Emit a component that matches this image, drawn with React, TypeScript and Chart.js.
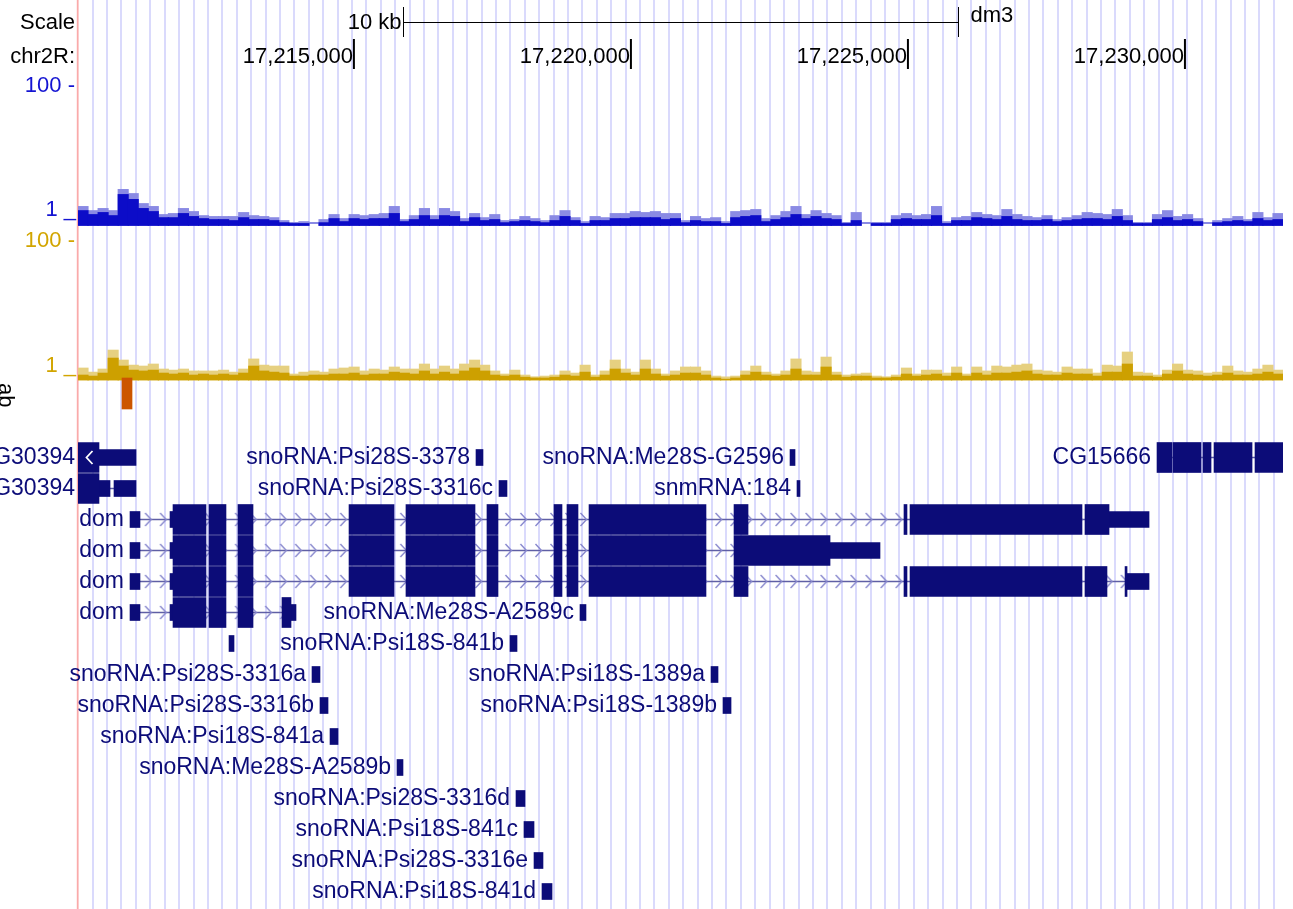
import React, { useEffect, useRef } from "react";
import { Chart, registerables } from "chart.js";

Chart.register(...registerables);

// ---------------- window / ruler ----------------
const CHROM_LABEL = "chr2R:";
const ASSEMBLY = "dm3";
const VIEW_START = 17210020;
const VIEW_END = 17231770;
const RULER_TICKS = [17215000, 17220000, 17225000, 17230000];
const SCALE_BAR_BP = 10000;
const SCALE_BAR_LABEL = "10 kb";
const GUIDE_START = 17210285;
const GUIDE_STEP = 260;

// ---------------- signal tracks (fixed-step bins) ----------------
const SIGNAL_STEP = 181.25;
const SIGNAL_TOP_LABEL = "100 -";
const SIGNAL_BOTTOM_LABEL = "1 _";

const BLUE_MAX = [
  1.88, 1.64, 1.76, 1.64, 3.3, 2.88, 2.07, 1.88, 1.44, 1.49,
  1.76, 1.59, 1.39, 1.35, 1.35, 1.35, 1.54, 1.39, 1.35, 1.3,
  1.18, 1.1, 1.14, null, 1.22, 1.44, 1.26, 1.44, 1.39, 1.44,
  1.49, 1.88, 1.22, 1.39, 1.76, 1.39, 1.76, 1.59, 1.26, 1.49,
  1.3, 1.44, 1.18, 1.22, 1.35, 1.26, 1.18, 1.39, 1.64, 1.3,
  1.14, 1.35, 1.3, 1.49, 1.49, 1.59, 1.54, 1.59, 1.49, 1.49,
  1.18, 1.35, 1.26, 1.3, 1.14, 1.59, 1.64, 1.7, 1.26, 1.39,
  1.59, 1.88, 1.44, 1.64, 1.49, 1.39, 1.1, 1.54, null, 1.1,
  1.1, 1.39, 1.49, 1.39, 1.44, 1.88, 1.14, 1.3, 1.35, 1.54,
  1.44, 1.39, 1.7, 1.44, 1.35, 1.3, 1.39, 1.22, 1.3, 1.39,
  1.54, 1.49, 1.44, 1.7, 1.39, 1.1, 1.1, 1.44, 1.64, 1.35,
  1.44, 1.26, null, 1.18, 1.26, 1.35, 1.22, 1.54, 1.3, 1.49,
];
const BLUE_MEAN = [
  1.64, 1.44, 1.54, 1.39, 2.79, 2.37, 1.76, 1.59, 1.3, 1.3,
  1.49, 1.35, 1.26, 1.22, 1.22, 1.18, 1.3, 1.22, 1.22, 1.18,
  1.1, 1.07, 1.07, null, 1.1, 1.26, 1.14, 1.26, 1.22, 1.26,
  1.26, 1.49, 1.14, 1.22, 1.39, 1.22, 1.39, 1.35, 1.14, 1.3,
  1.18, 1.22, 1.1, 1.14, 1.18, 1.14, 1.1, 1.18, 1.35, 1.18,
  1.07, 1.18, 1.18, 1.26, 1.26, 1.3, 1.3, 1.3, 1.22, 1.26,
  1.1, 1.18, 1.14, 1.14, 1.07, 1.3, 1.35, 1.39, 1.14, 1.22,
  1.3, 1.44, 1.26, 1.35, 1.26, 1.22, 1.07, 1.18, null, 1.07,
  1.07, 1.22, 1.26, 1.22, 1.22, 1.39, 1.07, 1.18, 1.18, 1.3,
  1.26, 1.22, 1.35, 1.22, 1.18, 1.18, 1.22, 1.14, 1.18, 1.22,
  1.26, 1.26, 1.22, 1.35, 1.18, 1.07, 1.07, 1.22, 1.3, 1.18,
  1.22, 1.14, null, 1.1, 1.14, 1.18, 1.14, 1.26, 1.18, 1.22,
];
const GOLD_MAX = [
  1.49, 1.3, 1.44, 2.7, 1.94, 1.64, 1.59, 1.7, 1.44, 1.39,
  1.44, 1.35, 1.35, 1.35, 1.39, 1.3, 1.44, 2.01, 1.64, 1.59,
  1.59, 1.22, 1.3, 1.35, 1.3, 1.44, 1.49, 1.54, 1.35, 1.44,
  1.39, 1.54, 1.44, 1.44, 1.7, 1.44, 1.59, 1.44, 1.7, 1.94,
  1.64, 1.35, 1.22, 1.39, 1.18, 1.1, 1.14, 1.18, 1.35, 1.26,
  1.64, 1.18, 1.35, 1.94, 1.44, 1.3, 1.94, 1.44, 1.22, 1.35,
  1.54, 1.54, 1.35, 1.14, 1.07, 1.14, 1.35, 1.59, 1.3, 1.22,
  1.35, 2.01, 1.35, 1.3, 2.14, 1.3, 1.18, 1.22, 1.26, 1.14,
  1.1, 1.18, 1.49, 1.22, 1.39, 1.39, 1.26, 1.54, 1.22, 1.54,
  1.35, 1.59, 1.54, 1.64, 1.7, 1.39, 1.35, 1.3, 1.54, 1.44,
  1.44, 1.26, 1.64, 1.59, 2.53, 1.3, 1.26, 1.18, 1.39, 1.7,
  1.39, 1.35, 1.26, 1.3, 1.59, 1.35, 1.3, 1.44, 1.64, 1.39,
];
const GOLD_MEAN = [
  1.18, 1.14, 1.26, 2.07, 1.59, 1.39, 1.35, 1.39, 1.26, 1.22,
  1.26, 1.18, 1.22, 1.18, 1.22, 1.18, 1.26, 1.59, 1.35, 1.3,
  1.26, 1.14, 1.14, 1.18, 1.18, 1.22, 1.22, 1.26, 1.18, 1.22,
  1.22, 1.3, 1.26, 1.22, 1.35, 1.22, 1.3, 1.22, 1.35, 1.49,
  1.35, 1.18, 1.14, 1.18, 1.1, 1.07, 1.07, 1.1, 1.18, 1.14,
  1.3, 1.1, 1.18, 1.44, 1.26, 1.18, 1.44, 1.22, 1.14, 1.18,
  1.26, 1.26, 1.18, 1.07, 1.03, 1.07, 1.18, 1.3, 1.18, 1.14,
  1.18, 1.44, 1.18, 1.18, 1.54, 1.18, 1.1, 1.14, 1.14, 1.07,
  1.07, 1.1, 1.22, 1.14, 1.18, 1.22, 1.14, 1.26, 1.14, 1.26,
  1.18, 1.26, 1.26, 1.3, 1.35, 1.22, 1.18, 1.18, 1.26, 1.22,
  1.22, 1.14, 1.3, 1.3, 1.7, 1.14, 1.14, 1.1, 1.22, 1.35,
  1.22, 1.18, 1.14, 1.18, 1.26, 1.18, 1.18, 1.22, 1.3, 1.22,
];

// ---------------- "ab" feature track ----------------
const AB_LABEL = "ab";
const AB_FEATURES = [[17210814, 17210995]];

// ---------------- gene models (genomic blocks) ----------------
type Block = number[];
const CG30394_CDS: Block[] = [[17209600, 17210399]];
const CG30394_RA_UTR: Block[] = [[17210399, 17211067]];
const CG30394_RB_UTR: Block[] = [[17210399, 17210598], [17210670, 17211067]];
const CG15666_CDS: Block[] = [
  [17229496, 17229767], [17229785, 17230290], [17230326, 17230471],
  [17230525, 17231211], [17231265, 17231900],
];
const DOM_5UTR: Block[] = [[17210959, 17211139], [17211681, 17211735]];
const DOM_CORE_CDS: Block[] = [[17211735, 17212330], [17212385, 17212691], [17212908, 17213179]];
const DOM_MID_CDS: Block[] = [
  [17214912, 17215724], [17215940, 17217186], [17217402, 17217601],
  [17218612, 17218756], [17218846, 17219045], [17219244, 17221355],
];
const DOM_RA_TAIL_CDS: Block[] = [[17221861, 17222114], [17224929, 17224983], [17225038, 17228142], [17228196, 17228630]];
const DOM_RA_3UTR: Block[] = [[17228630, 17229352]];
const DOM_RB_TAIL_CDS: Block[] = [[17221861, 17223594]];
const DOM_RB_3UTR: Block[] = [[17223594, 17224496]];
const DOM_RC_TAIL_CDS: Block[] = [[17221861, 17222114], [17224929, 17224983], [17225038, 17228142], [17228196, 17228593], [17228919, 17228955]];
const DOM_RC_3UTR: Block[] = [[17228955, 17229352]];
const DOM_RD_TAIL_CDS: Block[] = [[17213702, 17213865]];
const DOM_RD_3UTR: Block[] = [[17213865, 17213955]];

const TRANSCRIPT_LABELS = ["CG30394", "CG30394", "CG15666", "dom", "dom", "dom", "dom"];
const TRANSCRIPT_ROWS = [0, 1, 0, 2, 3, 4, 5];
const TRANSCRIPT_STRANDS = ["-", "-", "+", "+", "+", "+", "+"];
const TRANSCRIPT_CDS: Block[][] = [
  CG30394_CDS, CG30394_CDS, CG15666_CDS,
  [...DOM_CORE_CDS, ...DOM_MID_CDS, ...DOM_RA_TAIL_CDS],
  [...DOM_CORE_CDS, ...DOM_MID_CDS, ...DOM_RB_TAIL_CDS],
  [...DOM_CORE_CDS, ...DOM_MID_CDS, ...DOM_RC_TAIL_CDS],
  [...DOM_CORE_CDS, ...DOM_RD_TAIL_CDS],
];
const TRANSCRIPT_UTR: Block[][] = [
  CG30394_RA_UTR, CG30394_RB_UTR, [],
  [...DOM_5UTR, ...DOM_RA_3UTR],
  [...DOM_5UTR, ...DOM_RB_3UTR],
  [...DOM_5UTR, ...DOM_RC_3UTR],
  [...DOM_5UTR, ...DOM_RD_3UTR],
];
const TRANSCRIPT_CHEVRONS = [false, false, false, true, true, true, true];

const SNO_NAMES = [
  "snoRNA:Psi28S-3378", "snoRNA:Me28S-G2596", "snoRNA:Psi28S-3316c", "snmRNA:184",
  "snoRNA:Me28S-A2589c", "", "snoRNA:Psi18S-841b", "snoRNA:Psi28S-3316a",
  "snoRNA:Psi18S-1389a", "snoRNA:Psi28S-3316b", "snoRNA:Psi18S-1389b", "snoRNA:Psi18S-841a",
  "snoRNA:Me28S-A2589b", "snoRNA:Psi28S-3316d", "snoRNA:Psi18S-841c", "snoRNA:Psi28S-3316e",
  "snoRNA:Psi18S-841d",
];
const SNO_ROWS = [0, 0, 1, 1, 5, 6, 6, 7, 7, 8, 8, 9, 10, 11, 12, 13, 14];
const SNO_STARTS = [
  17217204, 17222872, 17217619, 17222998, 17219081, 17212746, 17217818, 17214244,
  17221446, 17214388, 17221662, 17214569, 17215778, 17217926, 17218070, 17218251, 17218395,
];
const SNO_ENDS = [
  17217330, 17222962, 17217763, 17223052, 17219189, 17212836, 17217944, 17214388,
  17221572, 17214533, 17221807, 17214713, 17215886, 17218088, 17218251, 17218413, 17218576,
];

// ---------------- layout & style (not data) ----------------
const W = 1293;
const H = 909;
const PLOT_LEFT = 78;
const PLOT_RIGHT = 1283;
const ROW0_Y = 457.5;
const ROW_PITCH = 31;
const AB_TRACK_Y = 393.5;
const BLUE_ONE_Y = 225.5;
const BLUE_HUNDRED_Y = 86;
const GOLD_ONE_Y = 380;
const GOLD_HUNDRED_Y = 241;
const CHEVRON_PHASE = 17210201;
const CHEVRON_STEP = 271;

const NAVY = "rgb(12,12,120)";
const INTRON = "rgb(95,95,165)";
const CHEVRON = "rgb(135,135,205)";
const GUIDE = "rgb(218,218,252)";
const RED = "rgb(250,170,170)";
const BLUE_DARK = "rgb(12,12,200)";
const BLUE_LIGHT = "rgb(138,138,228)";
const BLUE_TEXT = "rgb(20,20,210)";
const GOLD_DARK = "rgb(205,160,0)";
const GOLD_LIGHT = "rgb(230,208,128)";
const GOLD_TEXT = "rgb(210,165,0)";
const ORANGE = "rgb(204,85,0)";
const FONT = '"Liberation Sans", Arial, Helvetica, sans-serif';

function logBounds(oneY: number, hundredY: number) {
  const ppd = (oneY - hundredY) / 2;
  const lmax = oneY / ppd;
  const lmin = lmax - H / ppd;
  return { min: Math.pow(10, lmin), max: Math.pow(10, lmax) };
}

function makeChevron(color: string, pointRight: boolean, lw: number) {
  const c = document.createElement("canvas");
  c.width = 9;
  c.height = 15;
  const g = c.getContext("2d")!;
  g.strokeStyle = color;
  g.lineWidth = lw;
  g.beginPath();
  if (pointRight) {
    g.moveTo(1.5, 1);
    g.lineTo(7.5, 7.5);
    g.lineTo(1.5, 14);
  } else {
    g.moveTo(7.5, 1);
    g.lineTo(1.5, 7.5);
    g.lineTo(7.5, 14);
  }
  g.stroke();
  return c;
}

export default function App() {
  const ref = useRef<HTMLCanvasElement>(null);

  useEffect(() => {
    const canvas = ref.current;
    if (!canvas) return;

    const bpPerPx = (VIEW_END - VIEW_START) / (PLOT_RIGHT - PLOT_LEFT);
    const binPx = SIGNAL_STEP / bpPerPx + 0.4;
    const binX = (i: number) => VIEW_START + (i + 0.5) * SIGNAL_STEP;
    const sigBars = (arr: (number | null)[]) =>
      arr.map((v, i) => (v == null ? null : { x: binX(i), y: [1, v] })).filter(Boolean);

    const spans = TRANSCRIPT_CDS.map((cds, i) => {
      const all = [...cds, ...TRANSCRIPT_UTR[i]];
      return [Math.min(...all.map((b) => b[0])), Math.max(...all.map((b) => b[1]))];
    });

    const cdsData: any[] = [];
    const utrData: any[] = [];
    const intronData: any[] = [];
    const chevronData: any[] = [];
    TRANSCRIPT_CDS.forEach((cds, i) => {
      const row = TRANSCRIPT_ROWS[i];
      cds.forEach((b) => cdsData.push({ x: [b[0], b[1]], y: row }));
      TRANSCRIPT_UTR[i].forEach((b) => utrData.push({ x: [b[0], b[1]], y: row }));
      const [s, e] = spans[i];
      intronData.push({ x: s, y: row }, { x: e, y: row }, { x: e, y: null });
      if (TRANSCRIPT_CHEVRONS[i]) {
        for (let p = CHEVRON_PHASE; p < e; p += CHEVRON_STEP) {
          if (p > s + CHEVRON_STEP / 2 && p < e - CHEVRON_STEP / 3) chevronData.push({ x: p, y: row });
        }
      }
    });
    const snoData = SNO_STARTS.map((s, i) => ({ x: [s, SNO_ENDS[i]], y: SNO_ROWS[i] }));
    const abRow = (AB_TRACK_Y - ROW0_Y) / ROW_PITCH;
    const abData = AB_FEATURES.map((f) => ({ x: [f[0], f[1]], y: abRow }));
    // strand marker drawn inside the first CG30394 coding box
    const strandMarks = [{ x: VIEW_START + 11.5 * bpPerPx, y: TRANSCRIPT_ROWS[0] }];

    const blueB = logBounds(BLUE_ONE_Y, BLUE_HUNDRED_Y);
    const goldB = logBounds(GOLD_ONE_Y, GOLD_HUNDRED_Y);

    const chevronImg = makeChevron(CHEVRON, true, 1.4);
    const whiteImg = makeChevron("#ffffff", false, 1.8);

    const hBar = (data: any[], color: string, thickness: number, order: number) => ({
      type: "bar",
      indexAxis: "y",
      xAxisID: "x",
      yAxisID: "rows",
      data,
      backgroundColor: color,
      borderWidth: 0,
      barThickness: thickness,
      grouped: false,
      order,
    });
    const vBar = (data: any[], color: string, axis: string, order: number) => ({
      type: "bar",
      xAxisID: "x",
      yAxisID: axis,
      data,
      backgroundColor: color,
      borderWidth: 0,
      barThickness: binPx,
      grouped: false,
      order,
    });

    const textPlugin = {
      id: "browserDecor",
      beforeDatasetsDraw(chart: any) {
        const { ctx } = chart;
        const xs = chart.scales.x;
        ctx.save();
        ctx.strokeStyle = GUIDE;
        ctx.lineWidth = 2;
        for (let g = GUIDE_START; g <= VIEW_END; g += GUIDE_STEP) {
          const px = Math.round(xs.getPixelForValue(g));
          ctx.beginPath();
          ctx.moveTo(px, 0);
          ctx.lineTo(px, H);
          ctx.stroke();
        }
        ctx.strokeStyle = RED;
        ctx.lineWidth = 1.8;
        ctx.beginPath();
        ctx.moveTo(chart.chartArea.left - 0.3, 0);
        ctx.lineTo(chart.chartArea.left - 0.3, H);
        ctx.stroke();
        ctx.restore();
      },
      afterDatasetsDraw(chart: any) {
        const { ctx } = chart;
        const xs = chart.scales.x;
        const rows = chart.scales.rows;
        const left = chart.chartArea.left;
        ctx.save();
        ctx.textBaseline = "middle";

        // header
        ctx.font = `22px ${FONT}`;
        ctx.fillStyle = "#000";
        ctx.textAlign = "right";
        ctx.fillText("Scale", 75, 23);
        ctx.fillText(CHROM_LABEL, 75, 57);

        const mid = (VIEW_START + VIEW_END) / 2;
        const sb0 = Math.round(xs.getPixelForValue(mid - SCALE_BAR_BP / 2)) + 0.5;
        const sb1 = Math.round(xs.getPixelForValue(mid + SCALE_BAR_BP / 2)) + 0.5;
        ctx.strokeStyle = "#000";
        ctx.lineWidth = 1;
        ctx.beginPath();
        ctx.moveTo(sb0, 22.5);
        ctx.lineTo(sb1, 22.5);
        ctx.moveTo(sb0, 7);
        ctx.lineTo(sb0, 37);
        ctx.moveTo(sb1, 7);
        ctx.lineTo(sb1, 37);
        ctx.stroke();
        ctx.fillText(SCALE_BAR_LABEL, sb0 - 2, 23);
        ctx.textAlign = "left";
        ctx.fillText(ASSEMBLY, sb1 + 12, 16);

        ctx.textAlign = "right";
        ctx.lineWidth = 2;
        RULER_TICKS.forEach((t) => {
          const px = xs.getPixelForValue(t);
          ctx.beginPath();
          ctx.moveTo(px, 39);
          ctx.lineTo(px, 69);
          ctx.stroke();
          ctx.fillText(t.toLocaleString("en-US"), px - 1, 57);
        });

        // signal axis labels
        ctx.fillStyle = BLUE_TEXT;
        ctx.fillText(SIGNAL_TOP_LABEL, 75, BLUE_HUNDRED_Y);
        ctx.fillText(SIGNAL_BOTTOM_LABEL, 76, BLUE_ONE_Y - 15.5);
        ctx.fillStyle = GOLD_TEXT;
        ctx.fillText(SIGNAL_TOP_LABEL, 75, GOLD_HUNDRED_Y);
        ctx.fillText(SIGNAL_BOTTOM_LABEL, 76, GOLD_ONE_Y - 14.5);

        // ab track label (rotated)
        ctx.save();
        ctx.fillStyle = "#000";
        ctx.translate(-1, 383);
        ctx.rotate(Math.PI / 2);
        ctx.textAlign = "left";
        ctx.textBaseline = "alphabetic";
        ctx.fillText(AB_LABEL, 0, 0);
        ctx.restore();

        // gene labels
        ctx.font = `23px ${FONT}`;
        ctx.fillStyle = NAVY;
        ctx.textAlign = "right";
        TRANSCRIPT_LABELS.forEach((lab, i) => {
          const sp = xs.getPixelForValue(spans[i][0]);
          const lx = sp < left ? left - 3 : sp - 6;
          ctx.fillText(lab, lx, rows.getPixelForValue(TRANSCRIPT_ROWS[i]) + 0.5);
        });
        SNO_NAMES.forEach((lab, i) => {
          if (!lab) return;
          const sp = xs.getPixelForValue(SNO_STARTS[i]);
          ctx.fillText(lab, sp - 6, rows.getPixelForValue(SNO_ROWS[i]) + 0.5);
        });
        ctx.restore();
      },
    };

    const chart = new Chart(canvas, {
      type: "bar",
      data: {
        datasets: [
          {
            type: "line",
            xAxisID: "x",
            yAxisID: "blue",
            data: [{ x: VIEW_START, y: 1.09 }, { x: VIEW_END, y: 1.09 }],
            borderColor: BLUE_LIGHT,
            borderWidth: 2,
            pointRadius: 0,
            order: 20,
          },
          vBar(sigBars(BLUE_MAX), BLUE_LIGHT, "blue", 19),
          vBar(sigBars(BLUE_MEAN), BLUE_DARK, "blue", 18),
          {
            type: "line",
            xAxisID: "x",
            yAxisID: "gold",
            data: [{ x: VIEW_START, y: 1.09 }, { x: VIEW_END, y: 1.09 }],
            borderColor: GOLD_LIGHT,
            borderWidth: 2,
            pointRadius: 0,
            order: 17,
          },
          vBar(sigBars(GOLD_MAX), GOLD_LIGHT, "gold", 16),
          vBar(sigBars(GOLD_MEAN), GOLD_DARK, "gold", 15),
          hBar(abData, ORANGE, 31, 14),
          {
            type: "line",
            xAxisID: "x",
            yAxisID: "rows",
            data: intronData,
            borderColor: INTRON,
            borderWidth: 1.4,
            pointRadius: 0,
            spanGaps: false,
            order: 12,
          },
          {
            type: "line",
            xAxisID: "x",
            yAxisID: "rows",
            data: chevronData,
            showLine: false,
            pointStyle: chevronImg,
            pointRadius: 5,
            order: 11,
          },
          hBar(utrData, NAVY, 16, 6),
          hBar(snoData, NAVY, 16, 5),
          hBar(cdsData, NAVY, 30, 4),
          {
            type: "line",
            xAxisID: "x",
            yAxisID: "rows",
            data: strandMarks,
            showLine: false,
            pointStyle: whiteImg,
            pointRadius: 5,
            order: 1,
          },
        ] as any,
      },
      options: {
        responsive: false,
        animation: false,
        devicePixelRatio: 1,
        events: [],
        layout: { autoPadding: false, padding: { left: PLOT_LEFT, right: W - PLOT_RIGHT, top: 0, bottom: 0 } },
        plugins: { legend: { display: false }, tooltip: { enabled: false }, title: { display: false } },
        scales: {
          x: {
            type: "linear",
            display: false,
            min: VIEW_START,
            max: VIEW_END,
            bounds: "data",
            offset: false,
            beginAtZero: false,
          },
          rows: {
            type: "linear",
            axis: "y",
            position: "left",
            display: false,
            reverse: true,
            min: -ROW0_Y / ROW_PITCH,
            max: (H - ROW0_Y) / ROW_PITCH,
            bounds: "data",
            offset: false,
            beginAtZero: false,
          },
          blue: {
            type: "logarithmic",
            axis: "y",
            position: "left",
            display: false,
            min: blueB.min,
            max: blueB.max,
            bounds: "data",
            offset: false,
          },
          gold: {
            type: "logarithmic",
            axis: "y",
            position: "left",
            display: false,
            min: goldB.min,
            max: goldB.max,
            bounds: "data",
            offset: false,
          },
        } as any,
      },
      plugins: [textPlugin],
    } as any);

    return () => chart.destroy();
  }, []);

  return (
    <div style={{ position: "absolute", left: 0, top: 0, width: W, height: H, background: "#fff" }}>
      <canvas ref={ref} width={W} height={H} style={{ display: "block", width: W, height: H }} />
    </div>
  );
}
